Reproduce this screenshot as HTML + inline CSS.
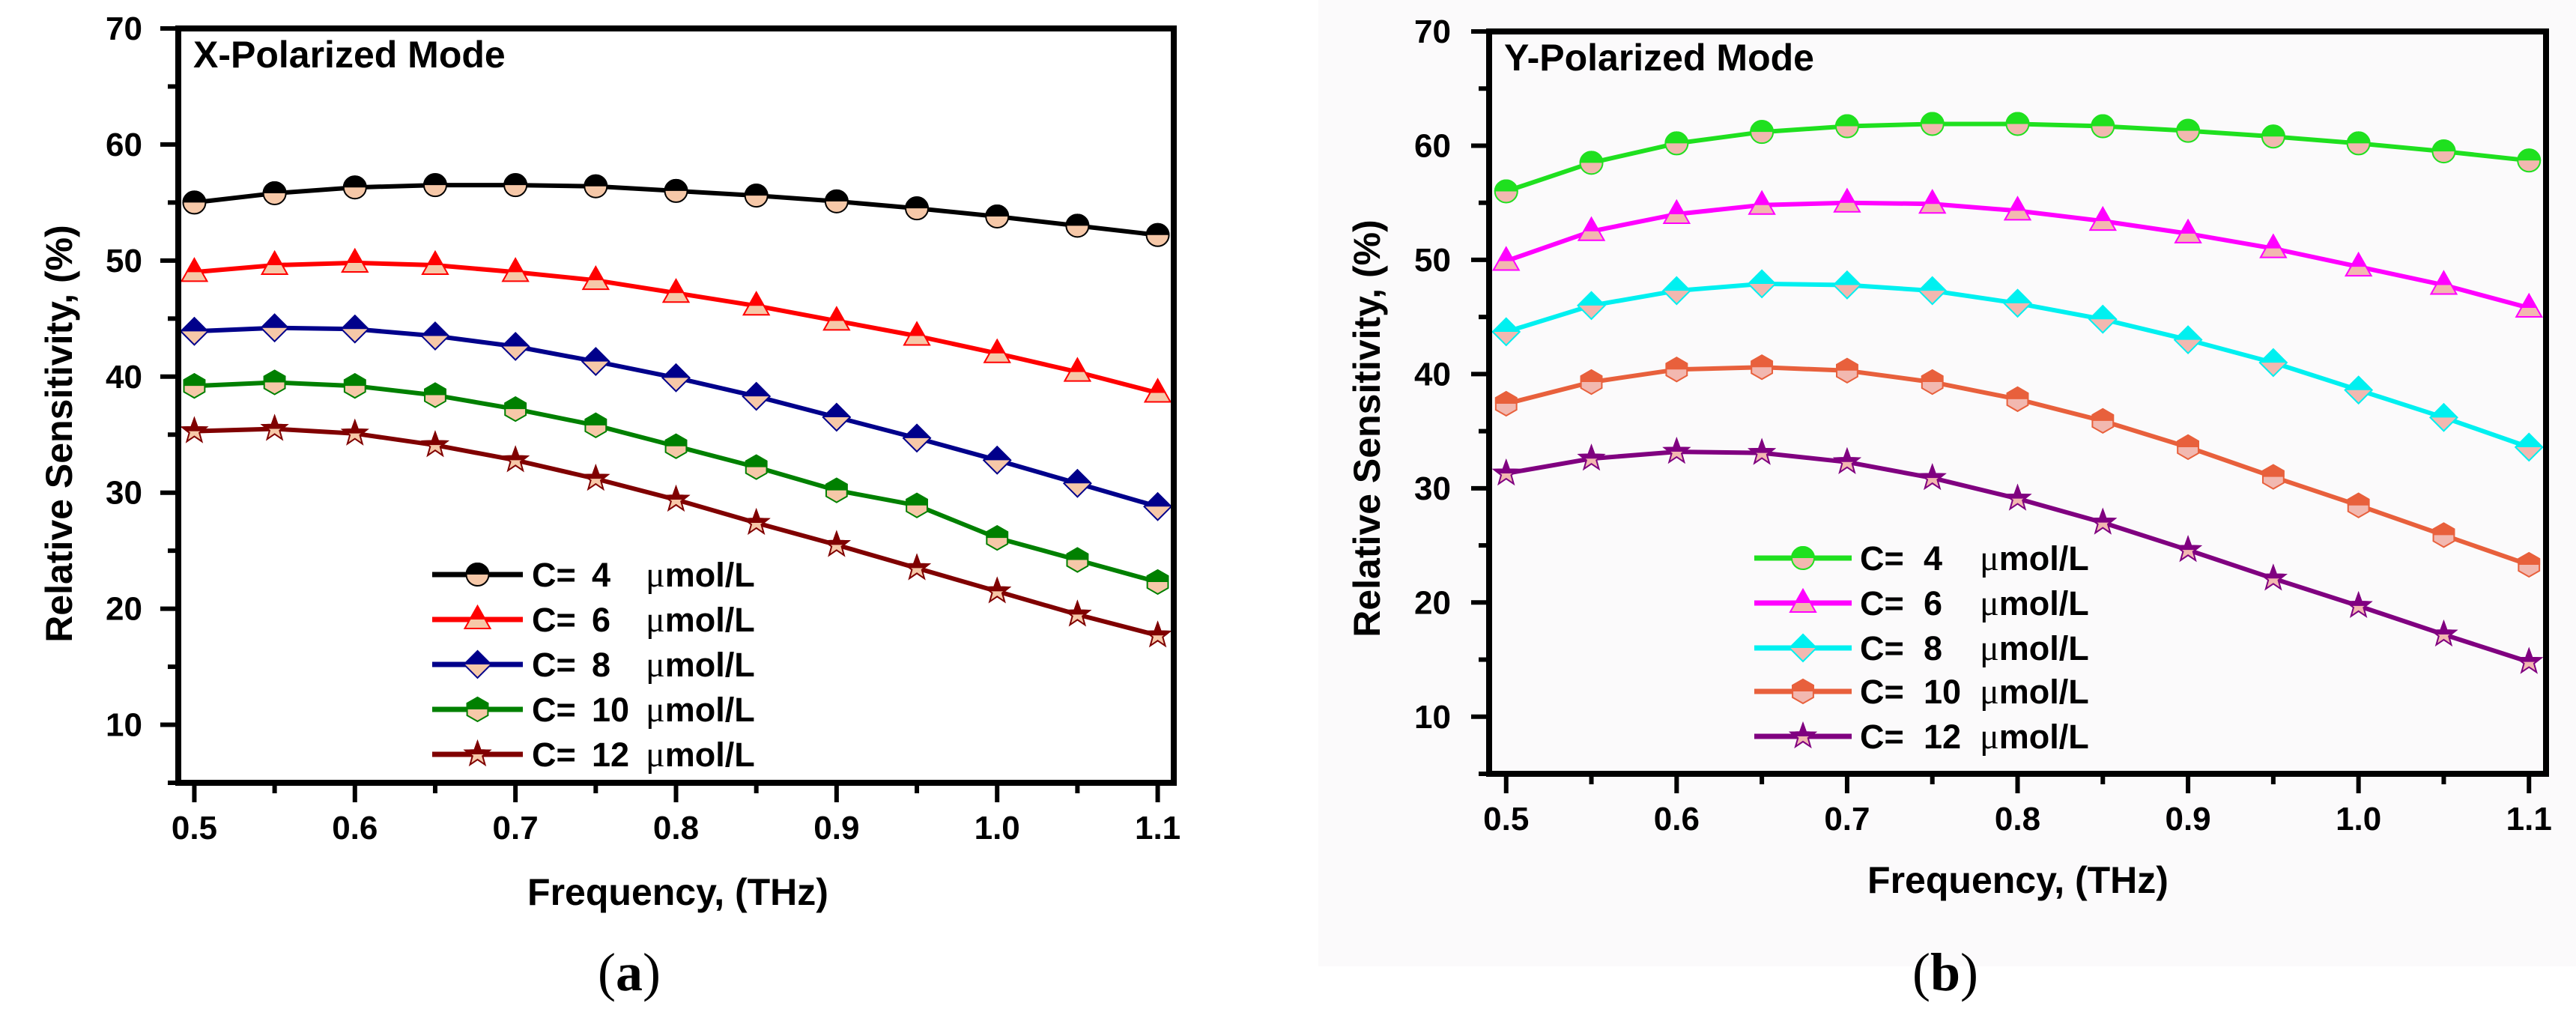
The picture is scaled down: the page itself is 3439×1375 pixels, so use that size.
<!DOCTYPE html>
<html><head><meta charset="utf-8"><style>
html,body{margin:0;padding:0;background:#fff;}
svg{display:block;font-family:"Liberation Sans",Arial,sans-serif;}
</style></head><body>
<svg id="fig" width="3439" height="1375" viewBox="0 0 3439 1375" xmlns="http://www.w3.org/2000/svg">
<defs><clipPath id="tophalf" clipPathUnits="userSpaceOnUse"><rect x="-30" y="-30" width="60" height="30"/></clipPath></defs>
<rect x="1760" y="0" width="1679" height="1290" fill="#fbfafb"/>
</svg>
<script>
const xCats = [0.5,0.55,0.6,0.65,0.7,0.75,0.8,0.85,0.9,0.95,1.0,1.05,1.1];
const xTickLabels = ["0.5","0.6","0.7","0.8","0.9","1.0","1.1"];
const xTickValues = [0.5,0.6,0.7,0.8,0.9,1.0,1.1];
const yTickValues = [10,20,30,40,50,60,70];
const legendNums = ["4","6","8","10","12"];
const xA_c4  = [55,55.8,56.3,56.5,56.5,56.4,56,55.6,55.1,54.5,53.8,53,52.2];
const xA_c6  = [49,49.6,49.8,49.6,49,48.3,47.2,46.1,44.8,43.5,42,40.4,38.6];
const xA_c8  = [43.9,44.2,44.1,43.5,42.6,41.3,39.9,38.3,36.5,34.7,32.8,30.8,28.8];
const xA_c10 = [39.2,39.5,39.2,38.4,37.2,35.8,34,32.2,30.2,28.9,26.1,24.2,22.3];
const xA_c12 = [35.3,35.5,35.1,34.1,32.8,31.2,29.4,27.4,25.5,23.5,21.5,19.5,17.7];
const yB_c4  = [56,58.5,60.2,61.2,61.7,61.9,61.9,61.7,61.3,60.8,60.2,59.5,58.7];
const yB_c6  = [49.9,52.5,54,54.8,55,54.9,54.3,53.4,52.3,51,49.4,47.8,45.8];
const yB_c8  = [43.7,46,47.3,47.9,47.8,47.3,46.2,44.8,43,41,38.6,36.2,33.6];
const yB_c10 = [37.4,39.3,40.4,40.6,40.3,39.3,37.8,35.9,33.6,31,28.5,25.9,23.3];
const yB_c12 = [31.3,32.6,33.2,33.1,32.3,30.9,29.1,27,24.6,22.1,19.7,17.2,14.8];

const NS="http://www.w3.org/2000/svg";
const svg=document.getElementById('fig');
function mk(tag,attrs,parent){const e=document.createElementNS(NS,tag);for(const k in attrs)e.setAttribute(k,attrs[k]);(parent||svg).appendChild(e);return e;}

const shapes={
 circle:(g,a)=>mk('circle',Object.assign({cx:0,cy:0,r:15},a),g),
 triangle:(g,a)=>mk('polygon',Object.assign({points:"0,-18 17,12 -17,12"},a),g),
 diamond:(g,a)=>mk('polygon',Object.assign({points:"0,-18 18,0 0,18 -18,0"},a),g),
 hexagon:(g,a)=>{let p=[];for(let i=0;i<6;i++){const t=Math.PI/6+i*Math.PI/3;p.push((16*Math.cos(t)).toFixed(1)+","+(16*Math.sin(t)).toFixed(1));}return mk('polygon',Object.assign({points:p.join(" ")},a),g);},
 star:(g,a)=>{let p=[];for(let i=0;i<10;i++){const r=i%2?7:17;const t=-Math.PI/2+i*Math.PI/5;p.push((r*Math.cos(t)).toFixed(1)+","+(r*Math.sin(t)).toFixed(1));}return mk('polygon',Object.assign({points:p.join(" ")},a),g);}
};
function marker(parent,shape,x,y,color,low){
  const g=mk('g',{transform:`translate(${x},${y})`},parent);
  
  
  shapes[shape](g,{fill:low,stroke:color,'stroke-width':2});
  shapes[shape](g,{fill:color,stroke:color,'stroke-width':2,'clip-path':'url(#tophalf)'});
}

function panel(cfg){
  const P=mk('g',{});
  
  
  const X=v=>cfg.L+(v-0.49)/(1.11-0.49)*(cfg.R-cfg.L);
  const Y=v=>cfg.B-(v-5)/(70-5)*(cfg.B-cfg.T);
  for(let v=5;v<=70;v+=5){
    const major=v%10===0;
    const t=mk('line',{x1:cfg.L-(major?24:14),x2:cfg.L,y1:Y(v),y2:Y(v),stroke:'#000','stroke-width':6},P);
    
  }
  yTickValues.forEach(v=>{
    const t=mk('text',{x:cfg.yLabR,y:Y(v)+15,'text-anchor':'end','font-size':44,'font-weight':'bold'},P);
    t.textContent=String(v);
  });
  xCats.forEach((v,i)=>{
    const major=i%2===0;
    const t=mk('line',{x1:X(v),x2:X(v),y1:cfg.B,y2:cfg.B+(major?26:14),stroke:'#000','stroke-width':6},P);
    
  });
  xTickValues.forEach((v,i)=>{
    const t=mk('text',{x:X(v),y:cfg.B+75,'text-anchor':'middle','font-size':44,'font-weight':'bold'},P);
    t.textContent=xTickLabels[i];
  });
  cfg.series.forEach((s,si)=>{
    const g=mk('g',{},P);
    
    
    const pts=s.data.map((v,i)=>X(xCats[i]).toFixed(1)+','+Y(v).toFixed(1)).join(' ');
    mk('polyline',{points:pts,fill:'none',stroke:s.color,'stroke-width':6,'stroke-linejoin':'round'},g);
    s.data.forEach((v,i)=>marker(g,s.shape,X(xCats[i]),Y(v),s.color,cfg.low));
    const ly=cfg.legY[si];
    const lg=mk('g',{},P);
    
    
    mk('line',{x1:cfg.legX1,x2:cfg.legX2,y1:ly,y2:ly,stroke:s.color,'stroke-width':7},lg);
    marker(lg,s.shape,(cfg.legX1+cfg.legX2)/2,ly,s.color,cfg.low);
    const t1=mk('text',{x:cfg.legT,y:ly+16,'font-size':45,'font-weight':'bold'},lg);t1.textContent='C=';
    const t3=mk('text',{x:cfg.legN,y:ly+16,'font-size':45,'font-weight':'bold'},lg);t3.textContent=legendNums[si];
    const t2=mk('text',{x:cfg.legU,y:ly+16,'font-size':45,'font-weight':'bold'},lg);
    const mu=mk('tspan',{'font-family':'"Liberation Serif",serif','font-weight':'normal','font-size':48},t2);mu.textContent='\u03BC';
    const rest=mk('tspan',{},t2);rest.textContent='mol/L';
  });
  const f=mk('rect',{x:cfg.L,y:cfg.T,width:cfg.R-cfg.L,height:cfg.B-cfg.T,fill:'none',stroke:'#000','stroke-width':8},P);
  
  const ti=mk('text',{x:cfg.L+20,y:cfg.T+52,'font-size':50,'font-weight':'bold'},P);
  ti.textContent=cfg.title;
  const xt=mk('text',{x:cfg.xtX,y:cfg.xtY,'text-anchor':'middle','font-size':50,'font-weight':'bold'},P);
  xt.textContent='Frequency, (THz)';
  const yt=mk('text',{x:0,y:0,transform:`translate(${cfg.ytX},${cfg.ytY}) rotate(-90)`,'text-anchor':'middle','font-size':50,'font-weight':'bold'},P);
  yt.textContent='Relative Sensitivity, (%)';
  const cap=mk('text',{x:cfg.capX,y:1322,'text-anchor':'middle','font-size':72,'font-family':'"Liberation Serif",serif'},P);
  cap.textContent='(';const b=mk('tspan',{'font-weight':'bold'},cap);b.textContent=cfg.cap;const c2=mk('tspan',{},cap);c2.textContent=')';
  
}

panel({name:'panel-a-x-polarized',L:238,R:1567,T:38,B:1045,yLabR:190,title:'X-Polarized Mode',low:'#f6c8a8',
  legX1:577,legX2:698,legT:710,legN:790,legU:862,legY:[767,827,887,947,1007],
  xtX:905,xtY:1208,ytX:96,ytY:579,capX:840,cap:'a',
  series:[{data:xA_c4,color:'#000000',shape:'circle'},{data:xA_c6,color:'#ff0000',shape:'triangle'},
          {data:xA_c8,color:'#00008b',shape:'diamond'},{data:xA_c10,color:'#008000',shape:'hexagon'},
          {data:xA_c12,color:'#800000',shape:'star'}]});
panel({name:'panel-b-y-polarized',L:1988,R:3399,T:42,B:1033,yLabR:1937,title:'Y-Polarized Mode',low:'#f2b8b0',
  legX1:2342,legX2:2472,legT:2483,legN:2568,legU:2643,legY:[745,805,865,923,983],
  xtX:2694,xtY:1192,ytX:1842,ytY:572,capX:2597,cap:'b',
  series:[{data:yB_c4,color:'#1fe01f',shape:'circle'},{data:yB_c6,color:'#ff00ff',shape:'triangle'},
          {data:yB_c8,color:'#00f0f0',shape:'diamond'},{data:yB_c10,color:'#e8603c',shape:'hexagon'},
          {data:yB_c12,color:'#800080',shape:'star'}]});
</script>
</body></html>
